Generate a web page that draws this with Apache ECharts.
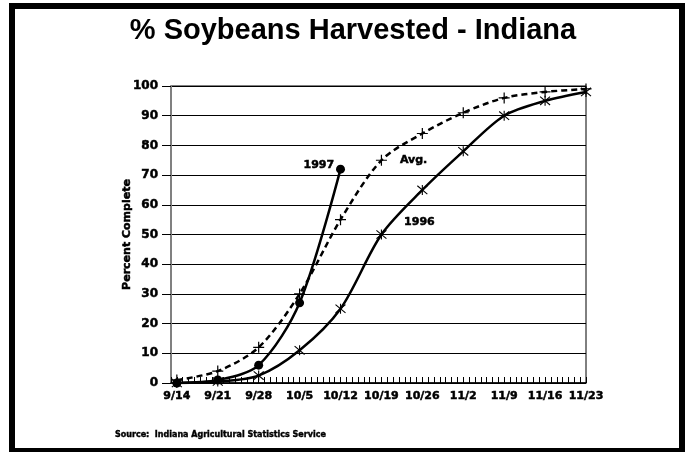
<!DOCTYPE html>
<html lang="en">
<head>
  <meta charset="UTF-8">
  <title>% Soybeans Harvested - Indiana</title>
  <script src="https://cdn.jsdelivr.net/npm/echarts@6/dist/echarts.min.js"></script>
  <style>
    html, body { margin: 0; padding: 0; background: #fff; }
    #chart { width: 686px; height: 452px; }
  </style>
</head>
<body>
  <div id="chart"></div>
  <script>
    // weeks, counted in days from 9/14
    var weekLabels = ['9/14', '9/21', '9/28', '10/5', '10/12', '10/19', '10/26', '11/2', '11/9', '11/16', '11/23'];
    var pct1997 = [0, 1, 6, 27, 72];
    var pctAvg = [1, 4, 12, 30, 55, 75, 84, 91, 96, 98, 99];
    var pct1996 = [0, 0.5, 2.5, 11, 25, 50, 65, 78, 90, 95, 98];

    function toPoints(vals) {
      var pts = [];
      for (var i = 0; i < vals.length; i++) {
        pts.push([i * 7, vals[i]]);
      }
      return pts;
    }

    var font = 'DejaVu Sans';
    // heavy look for the small labels
    var heavy = {fontFamily: font, fontWeight: 'bold', fontSize: 11, color: '#000', textBorderColor: '#000', textBorderWidth: 0.5};
    var plusSym = 'path://M0,-6L0,6M-6,0L6,0';
    var starSym = 'path://M0,-6L0,6M-5,-5L5,5M-5,5L5,-5';

    var myChart = echarts.init(document.getElementById('chart'), null, {renderer: 'canvas'});

    var opt = {
      animation: false,
      backgroundColor: '#fff',
      grid: {
        left: 171, right: 100, top: 86, bottom: 69,
        show: true, borderColor: '#000', borderWidth: 1
      },
      xAxis: {
        type: 'value',
        min: -1, max: 70, interval: 1,
        axisLine: {lineStyle: {color: '#000', width: 1.5}},
        axisTick: {inside: true, length: 6, lineStyle: {color: '#000'}},
        splitLine: {show: false},
        axisLabel: Object.assign({
          margin: 8,
          formatter: function (v) {
            if (v >= 0 && v % 7 === 0) return weekLabels[v / 7];
            return '';
          }
        }, heavy)
      },
      yAxis: {
        type: 'value',
        min: 0, max: 100, interval: 10,
        name: 'Percent Complete',
        nameLocation: 'middle',
        nameGap: 38,
        nameMoveOverlap: false,
        nameTextStyle: heavy,
        axisLine: {show: true, onZero: false, lineStyle: {color: '#808080', width: 2}},
        axisTick: {show: true, length: 9, lineStyle: {color: '#000'}},
        splitLine: {lineStyle: {color: '#000', width: 1}},
        axisLabel: Object.assign({margin: 13}, heavy, {fontSize: 12})
      },
      series: [
        {
          name: 'Avg.',
          type: 'line',
          data: toPoints(pctAvg),
          smooth: 0.3,
          symbol: plusSym,
          symbolSize: 11,
          itemStyle: {color: 'none', borderColor: '#000', borderWidth: 1.2},
          lineStyle: {color: '#000', width: 2.5, type: [6, 4]},
          markPoint: {
            symbol: 'circle', symbolSize: 1,
            itemStyle: {color: 'rgba(0,0,0,0)'},
            label: Object.assign({show: true, position: 'inside', formatter: '{b}'}, heavy),
            data: [{name: 'Avg.', coord: [40.5, 75]}]
          }
        },
        {
          name: '1996',
          type: 'line',
          data: toPoints(pct1996),
          smooth: 0.3,
          symbol: starSym,
          symbolSize: 10,
          itemStyle: {color: 'none', borderColor: '#000', borderWidth: 1.1},
          lineStyle: {color: '#000', width: 2.5},
          markPoint: {
            symbol: 'circle', symbolSize: 1,
            itemStyle: {color: 'rgba(0,0,0,0)'},
            label: Object.assign({show: true, position: 'inside', formatter: '{b}'}, heavy),
            data: [{name: '1996', coord: [41.5, 54]}]
          }
        },
        {
          name: '1997',
          type: 'line',
          data: toPoints(pct1997),
          smooth: 0.3,
          symbol: 'circle',
          symbolSize: 9,
          itemStyle: {color: '#000'},
          lineStyle: {color: '#000', width: 2.5},
          endLabel: Object.assign({show: true, formatter: '1997', offset: [-45, -4]}, heavy)
        }
      ],
      graphic: [
        {
          type: 'rect', silent: true, z: 100,
          shape: {x: 12, y: 6, width: 670, height: 445},
          style: {fill: 'none', stroke: '#000', lineWidth: 6}
        },
        {
          type: 'text', x: 353, y: 31, z: 100,
          style: {text: '% Soybeans Harvested - Indiana', fontFamily: 'Liberation Sans', fontWeight: 'bold', fontSize: 29, fill: '#000', align: 'center', verticalAlign: 'middle'}
        },
        {
          type: 'text', x: 115, y: 435, z: 100,
          style: {text: 'Source:  Indiana Agricultural Statistics Service', fontFamily: font, fontWeight: 'bold', fontSize: 8, fill: '#000', stroke: '#000', lineWidth: 0.4, align: 'left', verticalAlign: 'middle'}
        }
      ]
    };

    myChart.setOption(opt);
  </script>
</body>
</html>
